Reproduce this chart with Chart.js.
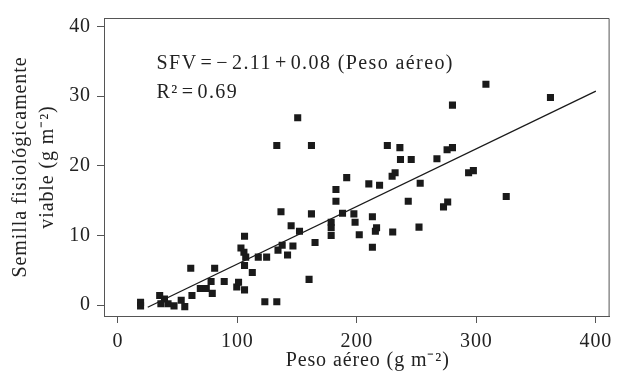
<!DOCTYPE html>
<html>
<head>
<meta charset="utf-8">
<script src="https://cdn.jsdelivr.net/npm/chart.js@4.4.1/dist/chart.umd.min.js"></script>
<style>
  html, body { margin: 0; padding: 0; background: #fff; }
  #wrap { width: 618px; height: 379px; }
</style>
</head>
<body>
<div id="wrap"><canvas id="cChart" width="618" height="379"></canvas></div>
<script>
// peso aereo (g m-2) and semilla fisiologicamente viable (g m-2)
var pesoAereo = [19, 19, 35, 39, 36, 42, 47, 53, 56, 61, 62, 69, 74, 78, 79, 81, 89, 99.5, 101, 103,
  105.5, 106, 107, 106, 106, 112.5, 117.5, 123, 124.5, 133, 134, 136.5, 137.5, 142, 145, 146.5, 152, 162, 165, 160,
  178.5, 178.5, 178.5, 182.5, 182.5, 188, 197.5, 198.5, 202, 210, 213, 213, 215.5, 216.5, 219, 230, 243, 252, 253, 272.5,
  276, 325, 150.5, 133, 162, 308, 362, 280, 225.5, 236, 236.5, 245.5, 267, 275.5, 280, 293.5, 297.5, 191.5, 229.5, 232];
var semilla = [0.4, -0.1, 1.4, 0.9, 0.2, 0.2, -0.1, 0.7, -0.2, 5.3, 1.4, 2.4, 2.4, 3.4, 1.7, 5.3, 3.4, 2.6, 3.3, 8.2,
  7.6, 9.9, 6.9, 5.7, 2.2, 4.7, 6.9, 0.5, 6.9, 0.5, 7.9, 13.4, 8.6, 7.2, 11.4, 8.5, 10.6, 13.1, 9.0, 3.7,
  11.9, 11.1, 10.0, 16.6, 14.9, 13.2, 13.1, 11.9, 10.1, 17.4, 12.7, 8.3, 10.6, 11.1, 17.2, 10.5, 14.9, 11.2, 17.5, 14.1,
  14.8, 15.6, 26.9, 22.9, 22.9, 31.7, 29.8, 28.7, 22.9, 22.6, 20.9, 20.9, 21.0, 22.3, 22.6, 19.0, 19.3, 18.3, 18.5, 19.0];

// fitted line as drawn in the figure
var lineX = [25, 400];
var lineY = [-0.3, 30.7];

var xTicks = [0, 100, 200, 300, 400];
var yTicks = [0, 10, 20, 30, 40];

var eqText = 'SFV\u200A=\u200A\u2212\u200A2.11\u200A+\u200A0.08 (Peso a\u00e9reo)';
var r2Text = 'R\u00b2\u200A=\u200A0.69';

var serif = "'Liberation Serif', 'Times New Roman', serif";
var axisColor = '#555';
var textColor = '#222';

var points = [];
for (var i = 0; i < pesoAereo.length; i++) {
  points.push({ x: pesoAereo[i], y: semilla[i] });
}
var fit = [];
for (var j = 0; j < lineX.length; j++) {
  fit.push({ x: lineX[j], y: lineY[j] });
}

var boxAndText = {
  id: 'boxAndText',
  beforeDraw: function(chart) {
    chart.ctx.letterSpacing = '0.9px';
  },
  afterDatasetsDraw: function(chart) {
    var ctx = chart.ctx;
    var a = chart.chartArea;
    var xs = chart.scales.x, ys = chart.scales.y;
    ctx.save();
    ctx.strokeStyle = axisColor;
    ctx.lineWidth = 1;
    ctx.beginPath();
    ctx.moveTo(a.left, a.top + 0.5);
    ctx.lineTo(a.right - 0.5, a.top + 0.5);
    ctx.lineTo(a.right - 0.5, a.bottom);
    ctx.stroke();

    ctx.fillStyle = textColor;
    ctx.font = '20px ' + serif;
    ctx.letterSpacing = '1.4px';
    ctx.textAlign = 'left';
    ctx.textBaseline = 'alphabetic';
    ctx.fillText(eqText, xs.getPixelForValue(32.4), ys.getPixelForValue(33.95));
    ctx.fillText(r2Text, xs.getPixelForValue(32.4), ys.getPixelForValue(29.7));
    ctx.restore();
  }
};

var ctx = document.getElementById('cChart');
var chartInstance = new Chart(ctx, {
  type: 'scatter',
  data: {
    datasets: [{
      data: points,
      pointStyle: 'rect',
      pointRadius: 5,
      pointBorderWidth: 0,
      backgroundColor: '#1a1a1a',
      borderColor: '#1a1a1a'
    }, {
      type: 'line',
      data: fit,
      borderColor: '#1a1a1a',
      borderWidth: 1.3,
      pointRadius: 0,
      fill: false
    }]
  },
  options: {
    responsive: false,
    animation: false,
    layout: { padding: { top: 14, right: 5, left: 0, bottom: 0 } },
    plugins: {
      legend: { display: false },
      tooltip: { enabled: false }
    },
    scales: {
      x: {
        type: 'linear',
        min: -11.6,
        max: 411.5,
        afterBuildTicks: function(scale) {
          scale.ticks = xTicks.map(function(v) { return { value: v }; });
        },
        afterFit: function(scale) { scale.height = 63; },
        grid: { drawOnChartArea: false, drawTicks: true, tickLength: 7, color: axisColor },
        border: { display: true, color: axisColor, width: 1 },
        ticks: { color: textColor, padding: 7, font: { family: serif, size: 20 }, maxRotation: 0 },
        title: {
          display: true,
          text: '\u2002\u2002Peso a\u00e9reo (g m\u207b\u00b2)',
          color: textColor,
          font: { family: serif, size: 20, lineHeight: 1.2 },
          padding: { top: 0, bottom: 6 }
        }
      },
      y: {
        type: 'linear',
        min: -1.55,
        max: 41.2,
        afterBuildTicks: function(scale) {
          scale.ticks = yTicks.map(function(v) { return { value: v }; });
        },
        afterFit: function(scale) { scale.width = 104; },
        grid: { drawOnChartArea: false, drawTicks: true, tickLength: 7, color: axisColor },
        border: { display: true, color: axisColor, width: 1 },
        ticks: { color: textColor, padding: 6, font: { family: serif, size: 20 } },
        title: {
          display: true,
          text: ['Semilla fisiol\u00f3gicamente', 'viable (g m\u207b\u00b2)'],
          color: textColor,
          font: { family: serif, size: 20, lineHeight: 1.35 },
          padding: { top: 7, bottom: 0 }
        }
      }
    }
  },
  plugins: [boxAndText]
});
</script>
</body>
</html>
